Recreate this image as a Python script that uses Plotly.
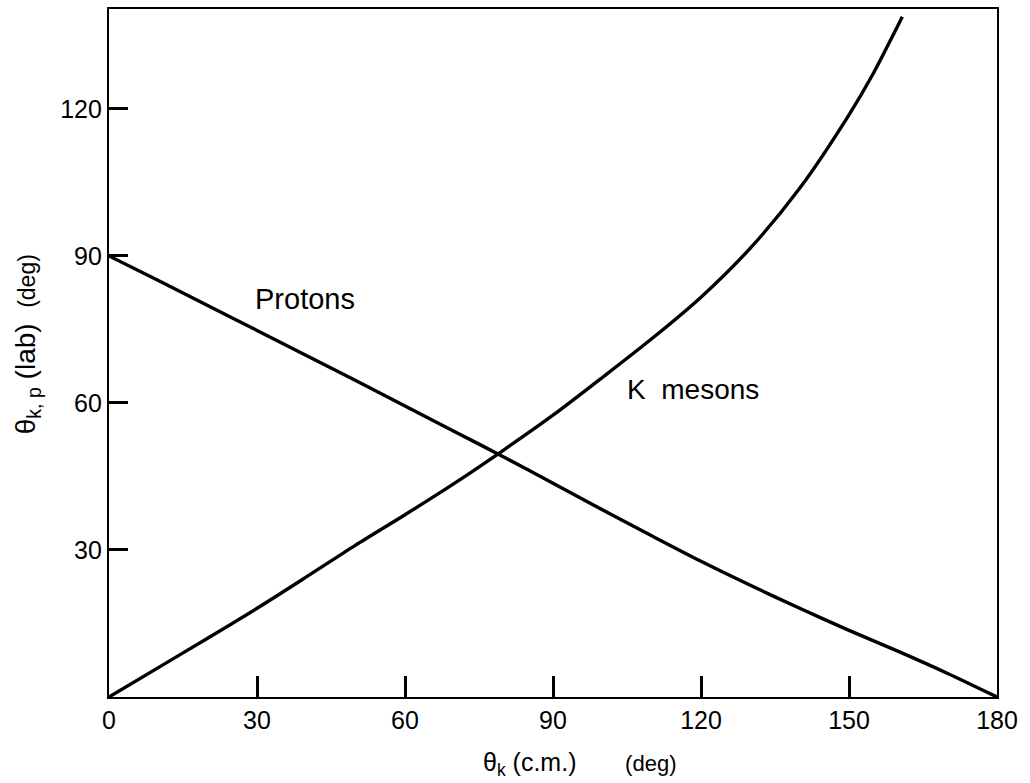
import plotly.graph_objects as go

# Centre-of-mass K angle (deg)
theta_cm = [0, 10, 20, 30, 40, 50, 60, 70, 80, 90, 100, 110, 120, 130, 140, 150, 160, 170, 180]
# Recoil proton lab angle (deg)
proton_lab = [90, 85, 79.9, 74.8, 69.7, 64.6, 59.4, 54.2, 49, 43.6, 38.2, 32.9, 27.7, 22.8, 18.1, 13.6, 9.3, 4.8, 0]

# K meson lab angle (deg), curve leaves the frame near 161 deg
k_cm = [0, 10, 20, 30, 40, 50, 60, 70, 80, 90, 100, 110, 120, 130, 140, 150, 155, 160, 160.8]
k_lab = [0, 6.0, 12.0, 18.1, 24.5, 31.0, 37.2, 43.6, 50.4, 57.5, 65.2, 73.1, 81.6, 91.6, 103.8, 118.8, 127.4, 137.2, 138.8]

x_ticks = [0, 30, 60, 90, 120, 150, 180]
y_ticks = [30, 60, 90, 120]

FONT = "Liberation Sans"
INK = "black"

fig = go.Figure()
fig.add_trace(go.Scatter(x=theta_cm, y=proton_lab, mode="lines",
                         line=dict(color=INK, width=3.4, shape="spline", smoothing=0.8),
                         name="Protons", hoverinfo="skip"))
fig.add_trace(go.Scatter(x=k_cm, y=k_lab, mode="lines",
                         line=dict(color=INK, width=3.4, shape="spline", smoothing=0.8),
                         name="K mesons", hoverinfo="skip"))

fig.update_layout(
    width=1030, height=783,
    margin=dict(l=109, r=33, t=7, b=86),
    paper_bgcolor="white", plot_bgcolor="white",
    showlegend=False,
    font=dict(family=FONT, color=INK, size=25),
)
fig.update_xaxes(
    range=[0, 180], tickvals=x_ticks, ticktext=[str(v) for v in x_ticks],
    ticks="inside", ticklen=21, tickwidth=2.5, tickcolor=INK,
    showline=True, linecolor=INK, linewidth=2.3, mirror=True,
    showgrid=False, zeroline=False,
    tickfont=dict(family=FONT, size=25, color=INK),
)
fig.update_yaxes(
    range=[0, 140.4], tickvals=y_ticks, ticktext=[str(v) for v in y_ticks],
    ticks="inside", ticklen=19, tickwidth=2.5, tickcolor=INK,
    showline=True, linecolor=INK, linewidth=2.3, mirror=True,
    showgrid=False, zeroline=False,
    tickfont=dict(family=FONT, size=25, color=INK),
)

# Curve labels
fig.add_annotation(x=39.8, y=81.2, xref="x", yref="y", text="Protons",
                   showarrow=False, font=dict(family=FONT, size=29, color=INK))
fig.add_annotation(x=118.4, y=62.8, xref="x", yref="y", text="K&nbsp;&nbsp;mesons",
                   showarrow=False, font=dict(family=FONT, size=28, color=INK))

# Axis titles
fig.add_annotation(
    x=0.530, y=-0.098, xref="paper", yref="paper", yanchor="middle",
    text=("θ<sub>k</sub> (c.m.)&nbsp;&nbsp;&nbsp;&nbsp;&nbsp;&nbsp;&nbsp;"
          "<span style='font-size:22px'>(deg)</span>"),
    showarrow=False, font=dict(family=FONT, size=25, color=INK),
)
fig.add_annotation(
    x=-0.092, y=0.513, xref="paper", yref="paper", xanchor="center",
    text=("θ<sub>k, p</sub> (lab)&nbsp;&nbsp;"
          "<span style='font-size:23px'>(deg)</span>"),
    textangle=-90, showarrow=False, font=dict(family=FONT, size=28, color=INK),
)

fig.write_html("out.html")
